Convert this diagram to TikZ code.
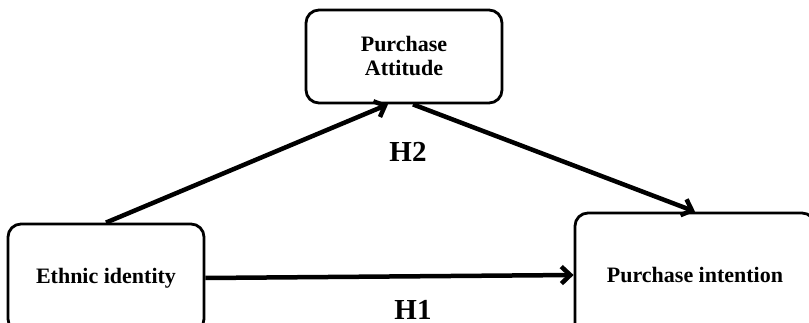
\documentclass[tikz,border=0pt]{standalone}
\usepackage{fontspec}
\setmainfont{Liberation Serif}
\usetikzlibrary{arrows.meta}

\begin{document}
\begin{tikzpicture}[x=1pt, y=-1pt, line width=4.5pt, >={Straight Barb[length=9pt, width=17pt]}]
        \tikzstyle{every node}=[font=\bfseries\fontsize{22}{24}\selectfont]
        \tikzstyle{box}=[draw, line width=2.8pt, rounded corners=13pt, align=center, inner sep=0pt]
        \useasboundingbox (0,0) rectangle (809,323);
        \clip (0,0) rectangle (809,323);
        \node [box, minimum width=196pt, minimum height=93pt] (att) at (404,56.5) {Purchase\\Attitude};
        \node [box, minimum width=196pt, minimum height=108pt] (ethnic) at (106,278) {Ethnic identity};
        \node [box, minimum width=240pt, minimum height=124pt] (intent) at (695,275) {Purchase intention};
        \draw [->] (ethnic.north) -- ([xshift=-16pt]att.south);
        \draw [->] ([xshift=9pt]att.south) -- (intent.north);
        \draw [->] (ethnic.east) -- (intent.west);
        \node [font=\bfseries\fontsize{29}{30}\selectfont] (h2) at (408,152) {H2};
        \node [font=\bfseries\fontsize{29}{30}\selectfont] (h1) at (413,310) {H1};
    \end{tikzpicture}
\end{document}
